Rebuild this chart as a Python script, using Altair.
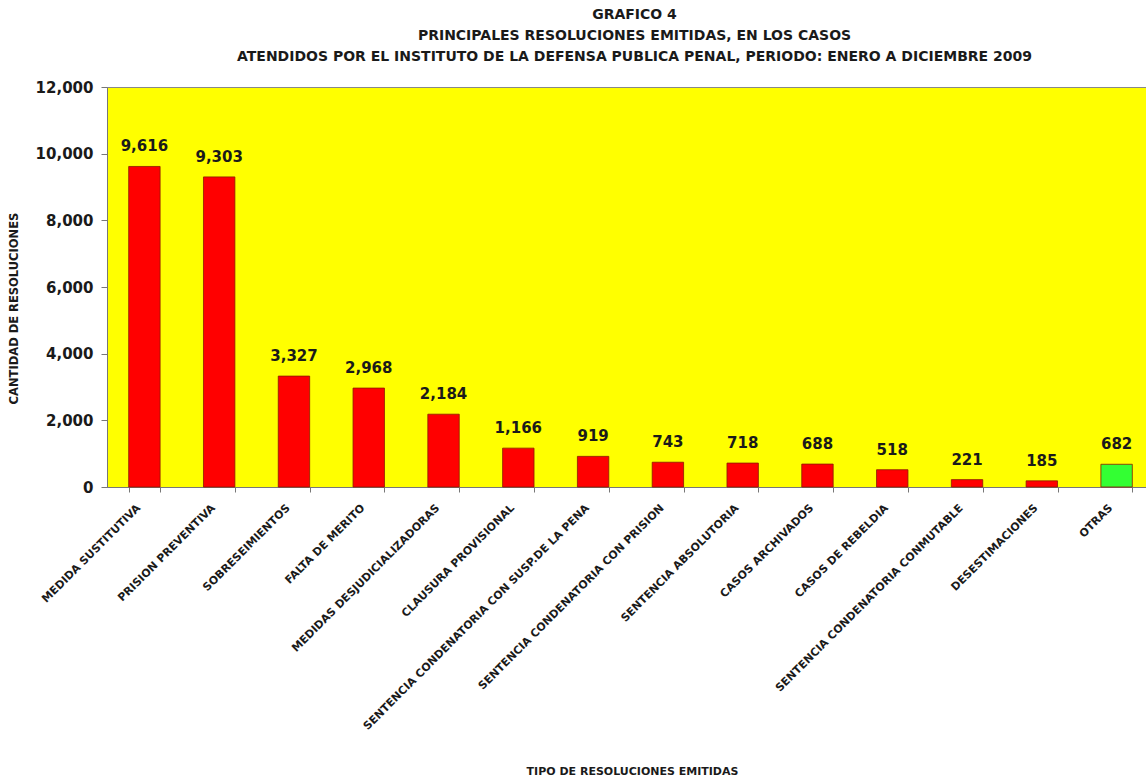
import altair as alt
import pandas as pd

categorias = [
    "MEDIDA SUSTITUTIVA",
    "PRISION PREVENTIVA",
    "SOBRESEIMIENTOS",
    "FALTA DE MERITO",
    "MEDIDAS DESJUDICIALIZADORAS",
    "CLAUSURA PROVISIONAL",
    "SENTENCIA CONDENATORIA CON SUSP.DE LA PENA",
    "SENTENCIA CONDENATORIA CON PRISION",
    "SENTENCIA ABSOLUTORIA",
    "CASOS ARCHIVADOS",
    "CASOS DE REBELDIA",
    "SENTENCIA CONDENATORIA CONMUTABLE",
    "DESESTIMACIONES",
    "OTRAS",
]
valores = [9616, 9303, 3327, 2968, 2184, 1166, 919, 743, 718, 688, 518, 221, 185, 682]
grupo = ["principal"] * 13 + ["otras"]

df = pd.DataFrame({"cat": categorias, "val": valores, "grupo": grupo})

FONT = "DejaVu Sans"
TXT = "#1a1a1a"

xscale = alt.Scale(range=[0, 1047], paddingInner=0.58, paddingOuter=0.29)

x = alt.X(
    "cat:N",
    sort=categorias,
    scale=xscale,
    axis=alt.Axis(
        title="TIPO DE RESOLUCIONES EMITIDAS",
        labelAngle=-45,
        labelAlign="right",
        labelBaseline="middle",
        labelFont=FONT,
        labelFontSize=11,
        labelFontWeight="bold",
        labelColor=TXT,
        labelPadding=14,
        labelOffset=-6,
        labelLimit=500,
        titleFont=FONT,
        titleFontSize=11,
        titleFontWeight="bold",
        titleColor=TXT,
        titleX=525,
        titleY=284,
        titleBaseline="middle",
        ticks=True,
        tickBand="extent",
        tickSize=5,
        tickColor="#777777",
        domainColor="#777777",
    ),
)
y = alt.Y(
    "val:Q",
    scale=alt.Scale(domain=[0, 12000]),
    axis=alt.Axis(
        title="CANTIDAD DE RESOLUCIONES",
        values=[0, 2000, 4000, 6000, 8000, 10000, 12000],
        format=",.0f",
        grid=False,
        labelFont=FONT,
        labelFontSize=15,
        labelFontWeight="bold",
        labelColor=TXT,
        labelPadding=8,
        titleFont=FONT,
        titleFontSize=11.5,
        titleFontWeight="bold",
        titleColor=TXT,
        titleX=-93,
        titleY=221,
        titleBaseline="middle",
        tickSize=6,
        tickColor="#777777",
        domainColor="#777777",
    ),
)

bars = alt.Chart(df).mark_bar(stroke="#8a1a00", strokeWidth=0.8).encode(
    x=x,
    y=y,
    color=alt.Color(
        "grupo:N",
        scale=alt.Scale(domain=["principal", "otras"], range=["#FF0000", "#33FF33"]),
        legend=None,
    ),
)

labels = alt.Chart(df).mark_text(
    baseline="bottom", dy=-12, font=FONT, fontSize=15, fontWeight="bold", color=TXT
).encode(
    x=alt.X("cat:N", sort=categorias, scale=xscale),
    y="val:Q",
    text=alt.Text("val:Q", format=",.0f"),
)

chart = (
    (bars + labels)
    .properties(
        width=1039,
        height=400,
        autosize=alt.AutoSizeParams(type="none"),
        padding={"left": 107, "top": 87, "right": 0, "bottom": 294},
        title=alt.TitleParams(
            text=[
                "GRAFICO 4",
                "PRINCIPALES RESOLUCIONES  EMITIDAS, EN LOS CASOS",
                "ATENDIDOS POR EL INSTITUTO DE LA DEFENSA PUBLICA PENAL, PERIODO:  ENERO A DICIEMBRE 2009",
            ],
            font=FONT,
            fontSize=14,
            fontWeight="bold",
            lineHeight=21,
            anchor="middle",
            dx=8,
            offset=16,
            color=TXT,
        ),
    )
    .configure_view(fill="#FFFF00", stroke="#888888", strokeWidth=1)
)

chart.save("out.html", embed_options={"renderer": "svg", "actions": False})
